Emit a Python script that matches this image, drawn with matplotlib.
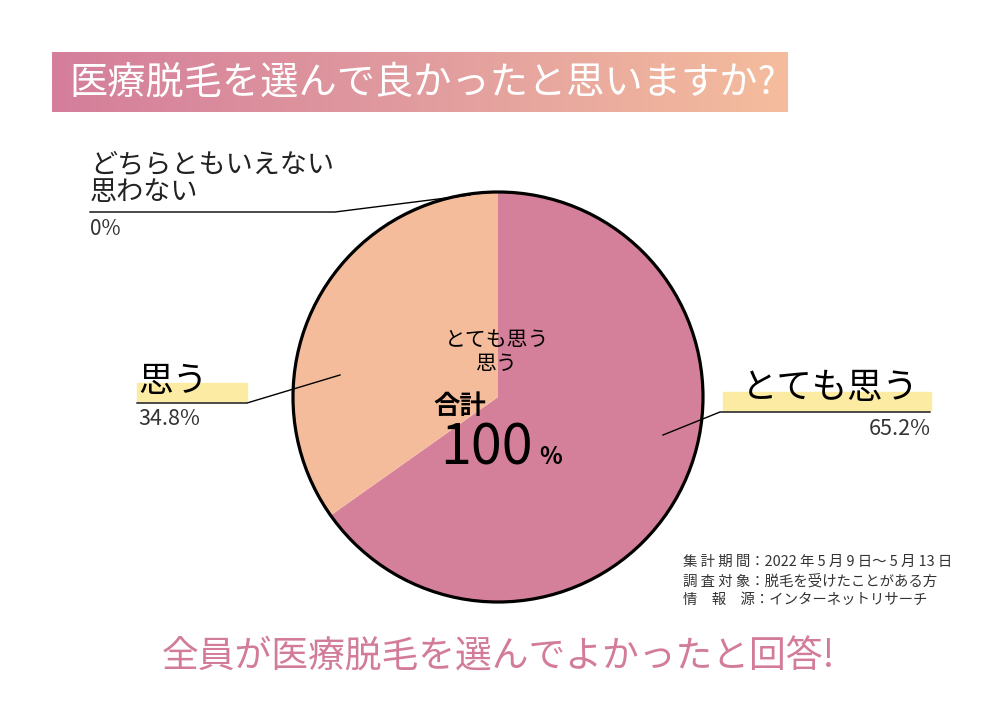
import matplotlib
matplotlib.use("Agg")
import matplotlib.pyplot as plt
import numpy as np
from matplotlib.patches import Circle, Rectangle
from matplotlib.colors import LinearSegmentedColormap

plt.rcParams['font.family'] = ['Noto Sans CJK JP', 'DejaVu Sans']

# ---- data ----
categories = ["とても思う", "思う", "どちらともいえない\n思わない"]
values = [65.2, 34.8, 0.0]
pct_labels = ["65.2%", "34.8%", "0%"]
slice_colors = ["#D5809B", "#F5BC9C", "#F5BC9C"]
title = "医療脱毛を選んで良かったと思いますか?"
footer = "全員が医療脱毛を選んでよかったと回答!"
notes = ["集 計 期 間：2022 年 5 月 9 日〜 5 月 13 日",
         "調 査 対 象：脱毛を受けたことがある方",
         "情　報　源：インターネットリサーチ"]

W, H = 1000, 707
fig = plt.figure(figsize=(W / 100, H / 100), dpi=100)
fig.patch.set_facecolor("white")

bg = fig.add_axes([0, 0, 1, 1])
bg.set_xlim(0, W)
bg.set_ylim(H, 0)
bg.axis("off")

# title banner with gradient
grad = np.linspace(0, 1, 256).reshape(1, -1)
cmap = LinearSegmentedColormap.from_list("g", ["#D47E9B", "#E19C9F", "#F5BD9D"])
bg.imshow(grad, extent=(52, 788, 112, 52), cmap=cmap, aspect="auto", zorder=1)
bg.text(69, 83, title, color="white", fontsize=27.5, va="center", ha="left", zorder=2)

# pie
cx, cy, r = 498, 397, 205
pax = fig.add_axes([(cx - r * 1.02) / W, (H - cy - r * 1.02) / H, 2 * r * 1.02 / W, 2 * r * 1.02 / H])
pax.pie(values, colors=slice_colors, startangle=90, counterclock=False,
        wedgeprops=dict(linewidth=0))
pax.add_patch(Circle((0, 0), 1.0, fill=False, edgecolor="black", linewidth=2.3, zorder=5))
pax.set_xlim(-1.02, 1.02)
pax.set_ylim(-1.02, 1.02)
pax.set_aspect("equal")
pax.axis("off")

# overlay axes for annotations on top of pie
ov = fig.add_axes([0, 0, 1, 1], facecolor="none")
ov.set_xlim(0, W)
ov.set_ylim(H, 0)
ov.axis("off")

hl = "#FCEBA3"
# 0% label
ov.text(90, 165, "どちらともいえない", fontsize=19.5, va="center", ha="left", color="#222222")
ov.text(90, 192, "思わない", fontsize=19.5, va="center", ha="left", color="#222222")
ov.plot([90, 335, 470], [212, 212, 195], color="black", lw=1)
ov.text(90, 229, pct_labels[2], fontsize=15, va="center", ha="left", color="#333333")

# 思う label
ov.add_patch(Rectangle((137, 383), 110, 18, color=hl, zorder=1))
ov.text(138, 381, categories[1], fontsize=25, va="center", ha="left", color="black", zorder=2)
ov.plot([137, 247, 340], [403, 403, 375], color="black", lw=1)
ov.text(138, 419, pct_labels[1], fontsize=15.5, va="center", ha="left", color="#333333")

# とても思う label
ov.add_patch(Rectangle((723, 392), 208, 18, color=hl, zorder=1))
ov.text(919, 388, categories[0], fontsize=25.5, va="center", ha="right", color="black", zorder=2)
ov.plot([930, 720, 663], [412, 412, 435], color="black", lw=1)
ov.text(931, 429, pct_labels[0], fontsize=15.5, va="center", ha="right", color="#333333")

# center text
ov.text(497, 340, "とても思う", fontsize=15, va="center", ha="center", color="black")
ov.text(497, 364, "思う", fontsize=15, va="center", ha="center", color="black")
ov.text(433, 406, "合計", fontsize=19, fontweight="bold", va="center", ha="left", color="black")
ov.text(440, 449, "100", fontsize=40, va="center", ha="left", color="black")
ov.text(539, 457, "%", fontsize=17, fontweight="bold", va="center", ha="left", color="black")

# notes
for i, line in enumerate(notes):
    ov.text(683, 562 + i * 19, line, fontsize=10.4, va="center", ha="left", color="#333333")

# footer
ov.text(498, 657, footer, fontsize=26.5, va="center", ha="center", color="#D37C9A")

fig.savefig("out.png", dpi=100)
